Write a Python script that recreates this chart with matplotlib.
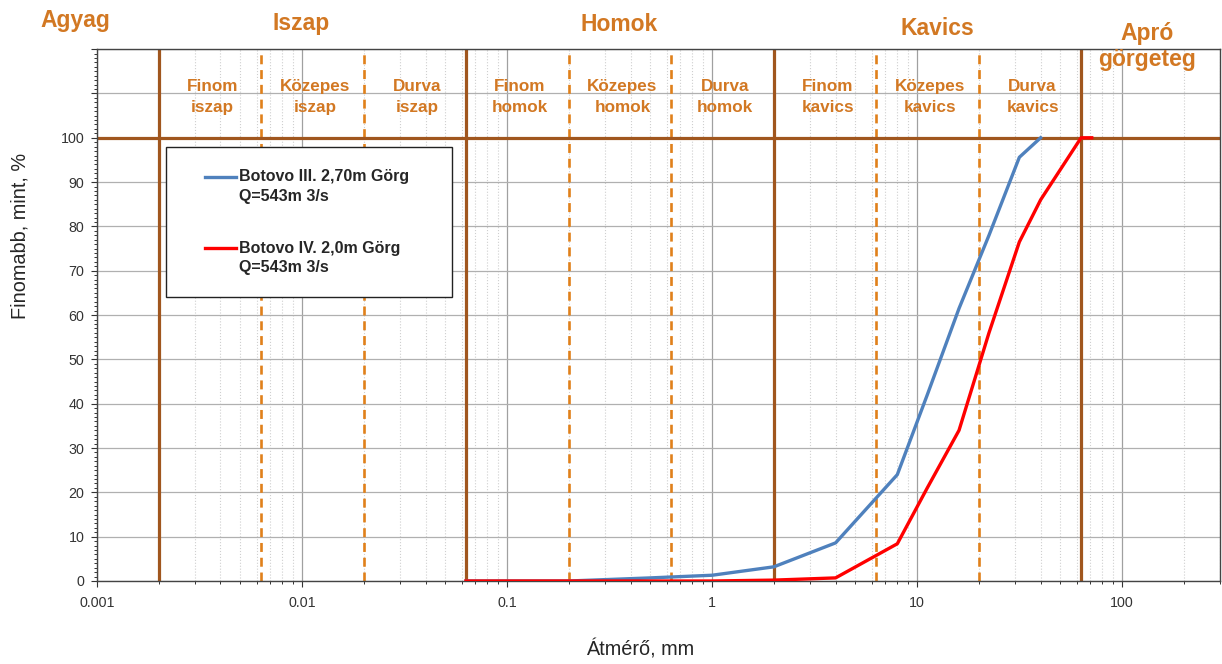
import numpy as np
import matplotlib
matplotlib.use("Agg")
import matplotlib.pyplot as plt
from matplotlib.ticker import FixedLocator, FixedFormatter, LogLocator, NullFormatter, MultipleLocator
from matplotlib.legend_handler import HandlerLine2D
import matplotlib.transforms as mtransforms

plt.rcParams['font.family'] = ['Liberation Sans', 'DejaVu Sans']

# szemcseeloszlasi gorbek (atmero mm, athullott %)
atmero_III = [0.063, 0.125, 0.2, 0.5, 1, 2, 4, 8, 11.2, 16, 22.4, 31.5, 40]
finom_III = [0, 0, 0, 0.7, 1.3, 3.2, 8.6, 24, 42, 61.5, 78, 95.6, 100]
atmero_IV = [0.063, 0.125, 0.25, 0.5, 1, 2, 4, 8, 11.2, 16, 22.4, 31.5, 40, 63, 71]
finom_IV = [0, 0, 0, 0, 0, 0.2, 0.7, 8.4, 21, 34, 56, 76.5, 86, 100, 100]
nev_III = "Botovo III. 2,70m Görg\nQ=543m 3/s"
nev_IV = "Botovo IV. 2,0m Görg\nQ=543m 3/s"

# frakcio hatarok
fo_hatarok = [0.002, 0.063, 2, 63]
al_hatarok = [0.0063, 0.02, 0.2, 0.63, 6.3, 20]
fo_nevek = ["Agyag", "Iszap", "Homok", "Kavics", "Apró\ngörgeteg"]
al_nevek = ["Finom\niszap", "Közepes\niszap", "Durva\niszap",
            "Finom\nhomok", "Közepes\nhomok", "Durva\nhomok",
            "Finom\nkavics", "Közepes\nkavics", "Durva\nkavics"]

x_tick_ertek = [0.001, 0.01, 0.1, 1, 10, 100]
x_tick_felirat = ["0.001", "0.01", "0.1", "1", "10", "100"]

barna = "#A0561E"
narancs = "#E0801A"
szoveg = "#D27823"


class HandlerFelso(HandlerLine2D):
    # a vonalat a felirat elso soraba emeli
    def create_artists(self, legend, orig_handle, xdescent, ydescent,
                       width, height, fontsize, trans):
        arts = super().create_artists(legend, orig_handle, xdescent, ydescent,
                                      width, height, fontsize, trans)
        for a in arts:
            a.set_ydata(np.asarray(a.get_ydata()) + 0.62 * fontsize)
        return arts


fig = plt.figure(figsize=(12.22, 6.64), dpi=100)
ax = fig.add_axes([0.0794, 0.125, 0.919, 0.801])

ax.set_xscale("log")
ax.set_xlim(0.001, 300)
ax.set_ylim(0, 120)

# racs
ax.xaxis.set_major_locator(FixedLocator(x_tick_ertek))
ax.xaxis.set_major_formatter(FixedFormatter(x_tick_felirat))
ax.xaxis.set_minor_locator(LogLocator(base=10, subs=np.arange(2, 10)))
ax.xaxis.set_minor_formatter(NullFormatter())
ax.yaxis.set_major_locator(MultipleLocator(10))
ax.yaxis.set_minor_locator(MultipleLocator(1))
ax.yaxis.set_major_formatter(plt.FuncFormatter(lambda v, p: "%d" % v if v <= 100 else ""))

ax.grid(True, which="major", axis="y", color="#B0B0B0", lw=0.9)
ax.grid(True, which="major", axis="x", color="#A0A0A0", lw=0.9)
ax.grid(True, which="minor", axis="x", color="#CFCFCF", lw=0.8, ls=":")
ax.set_axisbelow(True)

ax.tick_params(axis="both", which="major", direction="out", length=4, width=0.8,
               color="#333333", labelsize=10.3, labelcolor="#333333")
ax.tick_params(axis="x", which="major", pad=7)
ax.tick_params(axis="y", which="major", pad=5)
ax.tick_params(axis="both", which="minor", direction="out", length=2.5, width=0.7,
               color="#333333")
for s in ax.spines.values():
    s.set_color("#444444")
    s.set_linewidth(1.0)

# frakcio vonalak
for h in fo_hatarok:
    ax.axvline(h, color=barna, lw=2.3, zorder=2)
for h in al_hatarok:
    ax.axvline(h, color=narancs, lw=1.9, ls=(0, (3.4, 2.2)), zorder=2)
ax.axhline(100, color=barna, lw=2.3, zorder=2)

# alfrakcio feliratok
osszes = sorted(fo_hatarok[:-1] + al_hatarok + [fo_hatarok[-1]])
for i, nev in enumerate(al_nevek):
    xc = np.sqrt(osszes[i] * osszes[i + 1]) * 1.03
    ax.text(xc, 109.2, nev, ha="center", va="center", fontsize=12.3,
            fontweight="bold", color=szoveg, linespacing=1.45, zorder=3)

# fo frakcio feliratok
tr = mtransforms.blended_transform_factory(ax.transData, ax.transAxes)
fo_x = [0.00078, 0.0099, 0.353, 12.5, 132]
fo_y = [1.0414, 1.0357, 1.0338, 1.0263, 1.005]
for nev, xx, yy in zip(fo_nevek, fo_x, fo_y):
    va = "center" if "\n" in nev else "baseline"
    ax.text(xx, yy, nev, transform=tr, ha="center", va=va, fontsize=16.5,
            fontweight="bold", color=szoveg, linespacing=1.2, clip_on=False, zorder=5)

# gorbek
l3, = ax.plot(atmero_III, finom_III, color="#4F81BD", lw=2.4, zorder=4,
              solid_joinstyle="round", label=nev_III)
l4, = ax.plot(atmero_IV, finom_IV, color="#FF0000", lw=2.4, zorder=4.5,
              solid_joinstyle="round", label=nev_IV)

leg = ax.legend(handles=[l3, l4], loc="upper left",
                bbox_to_anchor=(0.0614, 0.816, 0.2547, 0.0), mode="expand",
                borderaxespad=0, fancybox=False, framealpha=1, edgecolor="#222222",
                prop={"size": 11.5, "weight": "bold"}, labelcolor="#262626",
                borderpad=1.4, labelspacing=2.33, handlelength=3.0, handletextpad=0.15,
                handler_map={l3: HandlerFelso(xpad=1.05), l4: HandlerFelso(xpad=1.05)})
for t in leg.get_texts():
    t.set_linespacing(1.35)
leg.get_frame().set_linewidth(1.0)
leg.set_zorder(10)

fig.text(0.0164, 0.645, "Finomabb, mint, %", rotation=90, ha="center", va="center",
         fontsize=14.3, color="#262626")
fig.text(0.5237, 0.022, "Átmérő, mm", ha="center", va="center",
         fontsize=14.3, color="#262626")

fig.savefig("out.png", dpi=100)
